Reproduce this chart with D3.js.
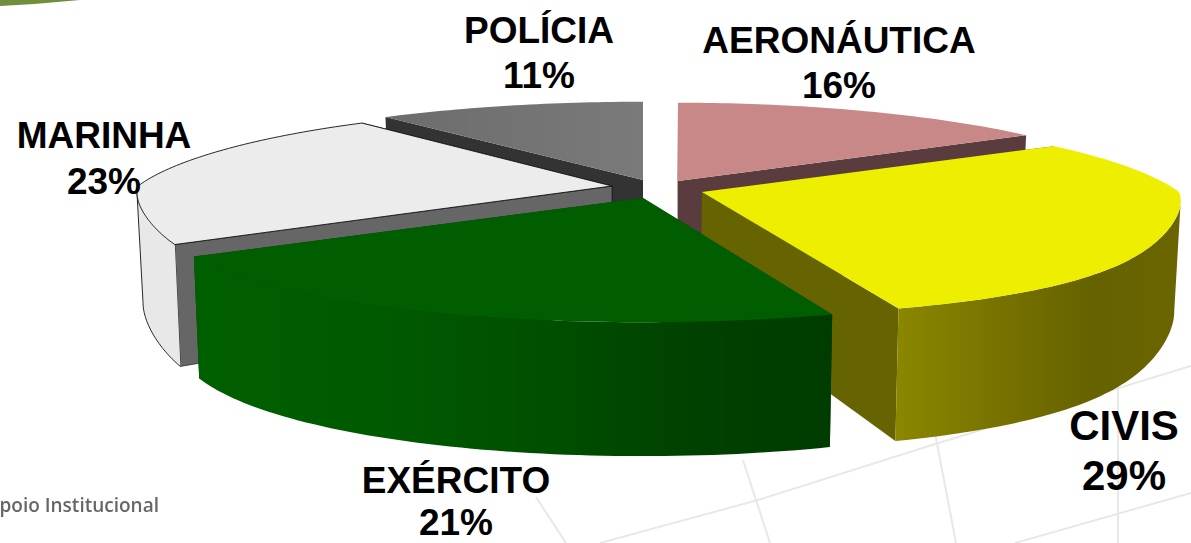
<!DOCTYPE html>
<html>
<head>
<meta charset="utf-8">
<script src="https://cdn.jsdelivr.net/npm/d3@7"></script>
<style>
  html, body { margin: 0; padding: 0; background: #fff; overflow: hidden; }
  text { font-family: "Liberation Sans", Arial, sans-serif; }
</style>
</head>
<body>
<div id="container"></div>
<script>
// data, clockwise from 12 o'clock
const categories = ["AERONÁUTICA", "CIVIS", "EXÉRCITO", "MARINHA", "POLÍCIA"];
const percents = [16, 29, 21, 23, 11];

// look of each slice
const topColors = ["#c88888", "#eeee00", "#005e00", "#ececec", "url(#topPolicia)"];
const sideColors = ["#5a3c3e", "#666400", "#004000", "#666666", "#333333"];
const wallColors = ["#5a3c3e", "url(#wallCivis)", "url(#wallExercito)", "#e8e8e8", "#333333"];
const edgeColors = ["none", "none", "none", "#111", "none"];
const drawOrder = ["POLÍCIA", "AERONÁUTICA", "MARINHA", "CIVIS", "EXÉRCITO"];

// exploded position of each slice (tip of the wedge), radius and side flattening
const tipX = [678, 702, 643, 612, 643];
const tipY = [181, 192, 198, 186, 180];
const radius = [472, 477, 455, 474, 488];
const flatten = [0, 0.06, 0, 0.066, 0];

// label placement
const labelX = [839, 1124, 456, 104, 539];
const labelY = [53, 440, 493, 148, 43];
const labelGap = [45, 50, 42, 46, 45];
const labelSize = [37, 42, 37, 37, 37];

const width = 1191;
const height = 543;
const radiusY = 96;

const svg = d3.select("#container")
  .append("svg")
  .attr("width", width)
  .attr("height", height)
  .attr("viewBox", "0 0 " + width + " " + height)
  .style("display", "block")
  .style("background-color", "#fff");

const defs = svg.append("defs");

function gradient(id, x1, x2, stops) {
  const g = defs.append("linearGradient")
    .attr("id", id)
    .attr("gradientUnits", "userSpaceOnUse")
    .attr("x1", x1).attr("x2", x2).attr("y1", 0).attr("y2", 0);
  stops.forEach(s => g.append("stop").attr("offset", s[0]).attr("stop-color", s[1]));
}
gradient("wallExercito", 195, 833, [[0, "#005f00"], [0.3, "#005a00"], [0.6, "#004c00"], [0.8, "#004000"], [1, "#003c00"]]);
gradient("wallCivis", 900, 1178, [[0, "#8a8600"], [0.4, "#757000"], [0.7, "#666200"], [1, "#6a6500"]]);
gradient("topPolicia", 386, 643, [[0, "#6c6c6c"], [1, "#7a7a7a"]]);
defs.append("filter").attr("id", "soft")
  .append("feGaussianBlur").attr("stdDeviation", 0.5);

// faint background of the slide
const bgLines = [
  [[743, 460], [770, 543]],
  [[935, 433], [956, 543]],
  [[1118, 386], [1118, 543]],
  [[758, 500], [932, 445], [1191, 366]],
  [[600, 543], [758, 500]],
  [[1015, 543], [1191, 493]],
  [[536, 497], [566, 543]]
];
const lineGen = d3.line();
svg.append("g").selectAll("path")
  .data(bgLines)
  .enter().append("path")
  .attr("d", lineGen)
  .attr("fill", "none")
  .attr("stroke", "#e8e8e8")
  .attr("stroke-width", 2);

svg.append("path")
  .attr("d", "M0,0 L80,0 Q40,4 0,6 Z")
  .attr("fill", "#6f8f3c");

svg.append("text")
  .attr("x", 159)
  .attr("y", 512)
  .attr("text-anchor", "end")
  .attr("font-size", 19)
  .attr("font-weight", 600)
  .attr("fill", "#666")
  .attr("filter", "url(#soft)")
  .style("font-family", "'Open Sans'")
  .text("poio Institucional");

// perspective: the front of the pie is closer, so wider, lower and taller
function project(d, angle, r) {
  const u = Math.sin(angle);
  const v = Math.cos(angle);
  const flat = v < 0 ? 1 - flatten[d.index] * Math.abs(Math.sin(Math.PI * v)) : 1;
  return [
    tipX[d.index] + r * u * flat / (1 + 0.27 * v),
    tipY[d.index] - radiusY * v / (1 + 0.227 * v)
  ];
}

function wallDepth(angle) {
  return 108 * (1 - 0.24 * Math.cos(angle));
}

// the walls narrow slightly towards the bottom
function drop(p, angle) {
  return [p[0] - 0.012 * (p[0] - 640), p[1] + wallDepth(angle)];
}

function sampleAngles(a0, a1) {
  const n = Math.max(2, Math.ceil((a1 - a0) / 0.02));
  return d3.range(n + 1).map(i => a0 + (a1 - a0) * i / n);
}

const pie = d3.pie()
  .sort(null)
  .value(d => d)
  .startAngle(0)
  .endAngle(2 * Math.PI);

const slices = pie(percents);
const closed = d3.line().curve(d3.curveLinearClosed);
const ordered = drawOrder.map(name => slices[categories.indexOf(name)]);

const groups = svg.append("g").selectAll("g")
  .data(ordered)
  .enter().append("g");

groups.each(function (d) {
  const g = d3.select(this);
  const i = d.index;
  const R = radius[i];
  const tip = [tipX[i], tipY[i]];
  const tipLow = drop(tip, Math.PI / 2);

  // flat walls along the two cuts, the one further back first
  const cuts = [d.startAngle, d.endAngle].sort((a, b) => Math.cos(b) - Math.cos(a));
  cuts.forEach(a => {
    const p = project(d, a, R);
    g.append("path")
      .attr("d", closed([tip, p, drop(p, a), tipLow]))
      .attr("fill", sideColors[i])
      .attr("stroke", edgeColors[i])
      .attr("stroke-width", 0.6);
  });

  // curved wall, from the rightmost to the leftmost point of the rim
  const front = sampleAngles(d.startAngle, d.endAngle)
    .filter(a => a > 85 * Math.PI / 180 && a < 275 * Math.PI / 180);
  if (front.length > 1) {
    const rightSide = front.filter(a => a <= Math.PI);
    const leftSide = front.filter(a => a > Math.PI);
    const a0 = rightSide.length ? d3.greatest(rightSide, a => project(d, a, R)[0]) : front[0];
    const a1 = leftSide.length ? d3.least(leftSide, a => project(d, a, R)[0]) : front[front.length - 1];
    const upper = sampleAngles(a0, a1).map(a => ({ a: a, p: project(d, a, R) }));
    const lower = upper.map(o => drop(o.p, o.a));
    g.append("path")
      .attr("d", closed(upper.map(o => o.p).concat(lower.slice().reverse())))
      .attr("fill", wallColors[i]);

    // thin black outline where the slice has one
    if (edgeColors[i] !== "none") {
      g.append("path")
        .attr("d", lineGen(lower.concat([upper[upper.length - 1].p])))
        .attr("fill", "none")
        .attr("stroke", edgeColors[i])
        .attr("stroke-width", 0.9);
    }
  }

  // top face
  const rim = sampleAngles(d.startAngle, d.endAngle).map(a => project(d, a, R));
  g.append("path")
    .attr("d", closed([tip].concat(rim)))
    .attr("fill", topColors[i])
    .attr("stroke", edgeColors[i])
    .attr("stroke-width", 0.9);
});

// labels
const labels = svg.append("g").selectAll("text")
  .data(slices)
  .enter().append("text")
  .attr("text-anchor", "middle")
  .attr("font-size", d => labelSize[d.index])
  .attr("font-weight", 700)
  .attr("fill", "#000");

labels.append("tspan")
  .attr("x", d => labelX[d.index])
  .attr("y", d => labelY[d.index])
  .text(d => categories[d.index]);

labels.append("tspan")
  .attr("x", d => labelX[d.index])
  .attr("y", d => labelY[d.index] + labelGap[d.index])
  .text(d => d.value + "%");
</script>
</body>
</html>
